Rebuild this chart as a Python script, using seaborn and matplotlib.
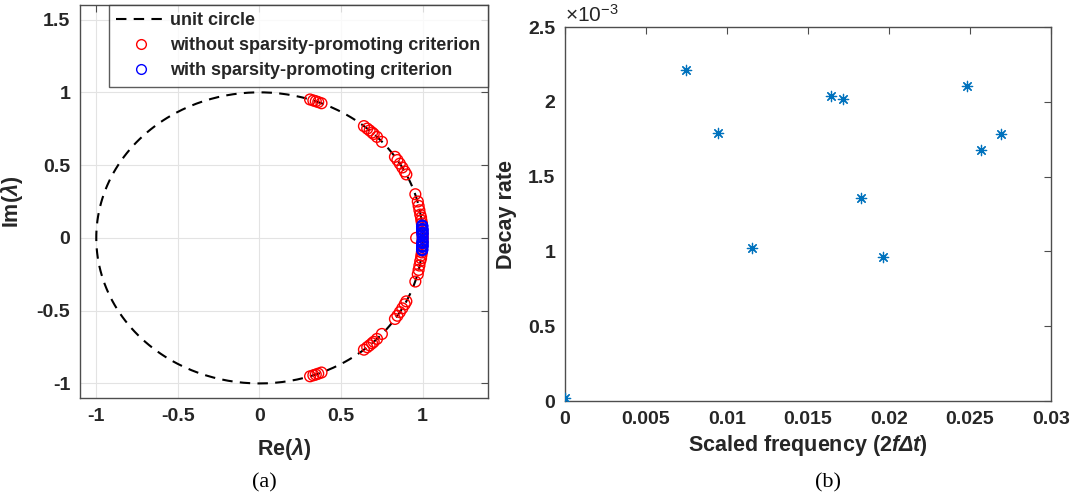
import numpy as np
import pandas as pd
import matplotlib
matplotlib.use("Agg")
import matplotlib.pyplot as plt
import seaborn as sns
from matplotlib.lines import Line2D
from matplotlib.ticker import FuncFormatter

# ---------------- data ----------------
# (a) eigenvalues without sparsity-promoting criterion
red_re = [0.31, 0.33, 0.345, 0.36, 0.38,
          0.64, 0.66, 0.675, 0.69, 0.70, 0.72, 0.75,
          0.83, 0.845, 0.86, 0.875, 0.89, 0.90,
          0.955, 0.97, 0.975, 0.98, 0.985, 0.99, 0.992, 0.995, 0.996, 0.997, 0.998, 0.999,
          1.0, 0.96,
          0.999, 0.998, 0.997, 0.996, 0.995, 0.992, 0.99, 0.985, 0.98, 0.975, 0.97, 0.955,
          0.90, 0.89, 0.875, 0.86, 0.845, 0.83,
          0.75, 0.72, 0.70, 0.69, 0.675, 0.66, 0.64,
          0.38, 0.36, 0.345, 0.33, 0.31]
red_im = [0.951, 0.944, 0.939, 0.933, 0.925,
          0.768, 0.751, 0.738, 0.724, 0.714, 0.694, 0.660,
          0.557, 0.535, 0.510, 0.484, 0.456, 0.436,
          0.30, 0.25, 0.22, 0.19, 0.16, 0.14, 0.12, 0.10, 0.08, 0.06, 0.04, 0.02,
          0.0, 0.0,
          -0.02, -0.04, -0.06, -0.08, -0.10, -0.12, -0.14, -0.16, -0.19, -0.22, -0.25, -0.30,
          -0.436, -0.456, -0.484, -0.510, -0.535, -0.557,
          -0.660, -0.694, -0.714, -0.724, -0.738, -0.751, -0.768,
          -0.925, -0.933, -0.939, -0.944, -0.951]
# (a) eigenvalues with sparsity-promoting criterion
blue_re = [0.997, 0.997, 0.997, 0.998, 0.998, 0.998, 0.998, 0.999, 0.999, 0.999, 1.0,
           0.999, 0.999, 0.999, 0.998, 0.998, 0.998, 0.998, 0.997, 0.997, 0.997]
blue_im = [0.085, 0.081, 0.078, 0.062, 0.057, 0.054, 0.052, 0.036, 0.030, 0.023, 0.0,
           -0.023, -0.030, -0.036, -0.052, -0.054, -0.057, -0.062, -0.078, -0.081, -0.085]

# (b) scaled frequency vs decay rate
freq = [0.0, 0.00746, 0.00947, 0.01155, 0.01642, 0.01718, 0.01825, 0.01962, 0.02480, 0.02570, 0.02692]
decay = [0.000022, 0.002214, 0.001789, 0.001020, 0.002037, 0.002017, 0.001355, 0.000964, 0.002104, 0.001675, 0.001782]

xticks_a = [-1, -0.5, 0, 0.5, 1]
yticks_a = [-1, -0.5, 0, 0.5, 1, 1.5]
xticks_b = [0, 0.005, 0.01, 0.015, 0.02, 0.025, 0.03]
yticks_b = [0, 0.0005, 0.001, 0.0015, 0.002, 0.0025]

# ---------------- style ----------------
sns.set_style("white")
plt.rcParams["font.family"] = ["Liberation Sans", "DejaVu Sans"]
plt.rcParams["font.weight"] = "bold"
plt.rcParams["mathtext.fontset"] = "custom"
plt.rcParams["mathtext.rm"] = "Liberation Sans:weight=normal"
plt.rcParams["mathtext.it"] = "Liberation Sans:style=italic:weight=bold"
plt.rcParams["mathtext.sf"] = "Liberation Sans:style=italic:weight=bold"
plt.rcParams["mathtext.bf"] = "Liberation Sans:weight=bold"

TXT = "#262626"
SP = "#4d4d4d"
TICK_FS = 14
LAB_FS = 15.5

fig = plt.figure(figsize=(10.76, 5.01), dpi=100)
ax1 = fig.add_axes([0.0743, 0.2056, 0.3792, 0.7844])
ax2 = fig.add_axes([0.5251, 0.1996, 0.4517, 0.7465])

# ---- panel (a) ----
theta = np.linspace(0, 2 * np.pi, 400)
circ = pd.DataFrame({"x": np.cos(theta), "y": np.sin(theta)})
sns.lineplot(data=circ, x="x", y="y", sort=False, estimator=None, ax=ax1,
             color="black", linestyle=(0, (5, 3.5)), linewidth=1.5)
sns.scatterplot(x=red_re, y=red_im, ax=ax1, marker="o", s=60,
                facecolors="none", edgecolor="red", linewidth=1.0, zorder=3)
sns.scatterplot(x=blue_re, y=blue_im, ax=ax1, marker="o", s=60,
                facecolors="none", edgecolor="blue", linewidth=1.0, zorder=4)

ax1.set_xlim(-1.1, 1.4)
ax1.set_ylim(-1.1, 1.6)
ax1.set_xticks(xticks_a)
ax1.set_yticks(yticks_a)
ax1.set_xticklabels([f"{v:g}" for v in xticks_a])
ax1.set_yticklabels([f"{v:g}" for v in yticks_a])
ax1.grid(True, color="#e3e3e3", linewidth=0.8)
ax1.set_axisbelow(True)
ax1.set_xlabel(r"Re($\mathsf{\lambda}$)", fontsize=LAB_FS, fontweight="bold", color=TXT, labelpad=8)
ax1.set_ylabel(r"Im($\mathsf{\lambda}$)", fontsize=LAB_FS, fontweight="bold", color=TXT, labelpad=8)

handles = [
    Line2D([0], [0], color="black", linestyle=(0, (5, 3.5)), linewidth=1.5),
    Line2D([0], [0], color="red", marker="o", markerfacecolor="none", linestyle="none", markersize=7),
    Line2D([0], [0], color="blue", marker="o", markerfacecolor="none", linestyle="none", markersize=7),
]
labels = ["unit circle", "without sparsity-promoting criterion", "with sparsity-promoting criterion"]
leg = ax1.legend(handles, labels, loc="upper right", bbox_to_anchor=(1.0, 1.0),
                 borderaxespad=0.0, frameon=True, fancybox=False, edgecolor="#333333",
                 prop={"weight": "bold", "size": 13}, handlelength=2.7, handletextpad=0.3,
                 labelspacing=0.45, borderpad=0.4)
leg.get_frame().set_linewidth(1.0)

# ---- panel (b) ----
sns.scatterplot(x=freq, y=decay, ax=ax2, marker=(8, 2, 0), s=55,
                color="#0072BD", edgecolor="#0072BD", linewidth=0.9, zorder=3)
ax2.set_xlim(0, 0.03)
ax2.set_ylim(0, 0.0025)
ax2.set_xticks(xticks_b)
ax2.set_yticks(yticks_b)
ax2.set_xticklabels([f"{v:g}" for v in xticks_b])
ax2.yaxis.set_major_formatter(FuncFormatter(lambda v, p: f"{v * 1e3:g}"))
ax2.text(0.0, 1.013, r"$\times\mathrm{10}^{\mathrm{-3}}$", transform=ax2.transAxes, fontsize=15,
         fontweight="normal", color=TXT, ha="left", va="baseline")
ax2.set_xlabel(r"Scaled frequency (2$\mathsf{f\Delta t}$)", fontsize=LAB_FS, fontweight="bold",
               color=TXT, labelpad=4)
ax2.set_ylabel("Decay rate", fontsize=LAB_FS, fontweight="bold", color=TXT, labelpad=8)

for ax in (ax1, ax2):
    for s in ax.spines.values():
        s.set_visible(True)
        s.set_color(SP)
        s.set_linewidth(1.0)
    ax.tick_params(direction="in", length=5, width=0.8, color=SP,
                   top=True, right=True, labelsize=TICK_FS, labelcolor=TXT, pad=7)
    for lab in ax.get_xticklabels() + ax.get_yticklabels():
        lab.set_fontweight("bold")

fig.text(264 / 1076, 1 - 483 / 501, "(a)", family="Liberation Serif", fontsize=16,
         fontweight="normal", ha="center", va="center", color="black")
fig.text(828 / 1076, 1 - 483 / 501, "(b)", family="Liberation Serif", fontsize=16,
         fontweight="normal", ha="center", va="center", color="black")

fig.savefig("out.png", dpi=100)
